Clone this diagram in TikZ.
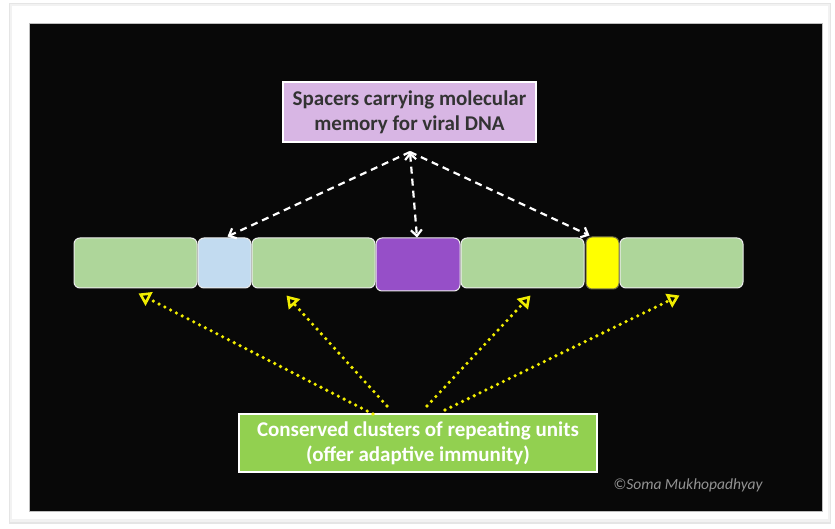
\documentclass[tikz,border=0pt]{standalone}
\usepackage{fontspec}
\setmainfont{Carlito}
\usetikzlibrary{arrows.meta,calc}
\definecolor{bgblack}{HTML}{080808}
\definecolor{segG}{HTML}{AED69A}
\definecolor{segB}{HTML}{C2DBF0}
\definecolor{segP}{HTML}{964FC8}
\definecolor{segY}{HTML}{FFFF00}
\definecolor{boxP}{HTML}{D8B6E4}
\definecolor{boxG}{HTML}{92D050}
\definecolor{dotY}{HTML}{F0EC00}
\tikzset{
  seg/.style={draw=white!85!gray, line width=1pt, rounded corners=6pt, minimum height=50pt, inner sep=0pt},
  lbox/.style={draw=white, line width=2pt, inner sep=0pt, align=center, font=\bfseries\fontsize{21}{25}\selectfont},
  wdash/.style={draw=white, line width=2.2pt, dash pattern=on 7pt off 5pt, -{Straight Barb[length=6pt,width=11pt]}},
  ydot/.style={draw=dotY, line width=3.6pt, line cap=round, dash pattern=on 0pt off 6.5pt, -{Triangle[open,length=12pt,width=15pt,line width=2.6pt]}}
}
\begin{document}
\begin{tikzpicture}[x=1pt,y=-1pt]
\useasboundingbox (0,0) rectangle (835,529);
\fill[white] (0,0) rectangle (835,529);
% frame with soft shadow
\fill[black!10] (9,3) rectangle (831,524);
\fill[black!5] (10,4) rectangle (830,522);
\fill[white] (12,6) rectangle (828,519);
\fill[bgblack] (29,23) rectangle (822,511);
\draw[black!25, line width=0.6pt] (29,23) rectangle (822,511);

% segments
\node[seg, fill=segG, minimum width=123pt] (g1) at (135.5,263) {};
\node[seg, fill=segB, minimum width=53pt]  (bl) at (224.5,263) {};
\node[seg, fill=segG, minimum width=123pt] (g2) at (313.5,263) {};
\node[seg, fill=segP, minimum width=84pt, minimum height=53pt] (pu) at (418,264.5) {};
\node[seg, fill=segG, minimum width=123pt] (g3) at (522.5,263) {};
\node[seg, fill=segY, draw=black!60!yellow, minimum width=33pt, minimum height=52pt] (ye) at (602.5,263) {};
\node[seg, fill=segG, minimum width=123pt] (g4) at (681.5,263) {};

% labels
\node[lbox, fill=boxP, text=black!80, minimum width=253pt, minimum height=60pt] (sp) at (409.5,112)
  {Spacers carrying molecular\\memory for viral DNA};
\node[lbox, fill=boxG, text=white, minimum width=358pt, minimum height=58pt] (cons) at (418,443)
  {Conserved clusters of repeating units\\(offer adaptive immunity)};

\node[text=gray!85, font=\itshape\fontsize{15.5}{18}\selectfont] (cr) at (688,485) {©Soma Mukhopadhyay};

% white dashed arrows
\coordinate (s) at ($(sp.south)+(0.5,9)$);
\draw[wdash] (s) -- ($(bl.north)+(3,-1)$);
\draw[wdash, {Straight Barb[length=6pt,width=11pt]}-{Straight Barb[length=6pt,width=11pt]}] (s) -- ($(pu.north)+(-1,0)$);
\draw[wdash] (s) -- ($(ye.north west)+(4,-1)$);

% yellow dotted arrows
\draw[ydot] ($(cons.north)+(-45,1)$) -- ($(g1.south)+(3,5)$);
\draw[ydot] ($(cons.north)+(-31,-7)$) -- ($(g2.south)+(-27,7)$);
\draw[ydot] ($(cons.north)+(9,-7)$) -- ($(g3.south)+(8,7)$);
\draw[ydot] ($(cons.north)+(27,-3)$) -- ($(g4.south)+(-2,7)$);
\end{tikzpicture}
\end{document}
